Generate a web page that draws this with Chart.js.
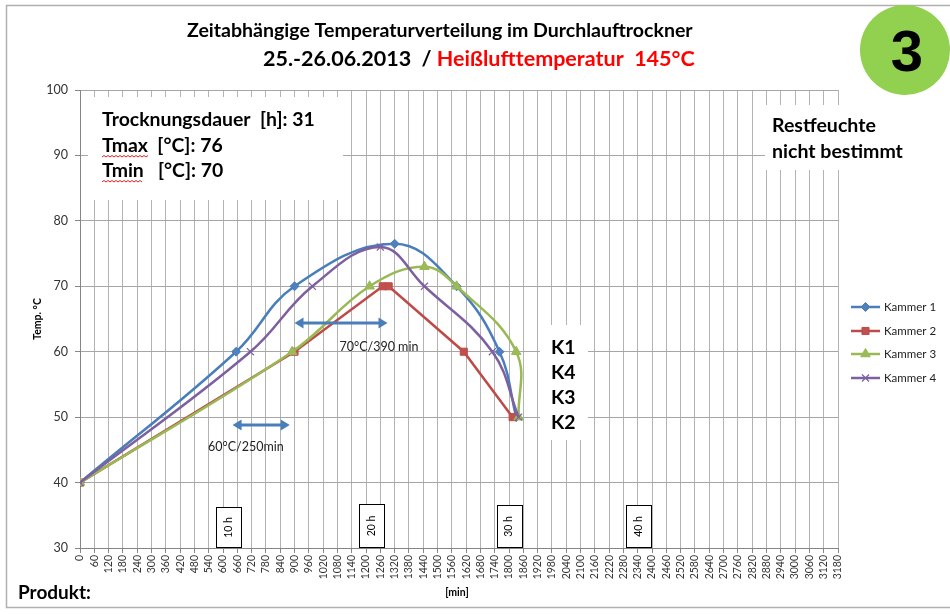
<!DOCTYPE html>
<html>
<head>
<meta charset="utf-8">
<script src="https://cdn.jsdelivr.net/npm/chart.js@4.4.1/dist/chart.umd.min.js"></script>
<style>
  html, body { margin: 0; padding: 0; background: #fff; }
  canvas { display: block; }
</style>
</head>
<body>
<canvas id="chart" width="950" height="614"></canvas>
<script>
// Messwerte: Zeit [min] und Temperatur [°C] je Kammer
const k1Min  = [0, 655, 900, 1320, 1580, 1760, 1830];
const k1Temp = [40, 60, 70, 76.5, 70, 60, 50];
const k2Min  = [0, 900, 1270, 1295, 1610, 1815];
const k2Temp = [40, 60, 70, 70, 60, 50];
const k3Min  = [0, 890, 1215, 1445, 1580, 1830, 1840];
const k3Temp = [40, 60, 70, 73, 70, 60, 50];
const k4Min  = [0, 715, 975, 1260, 1445, 1730, 1840];
const k4Temp = [40, 60, 70, 76, 70, 60, 50];

const seriesNames = ['Kammer 1', 'Kammer 2', 'Kammer 3', 'Kammer 4'];

// Achsen
const xMin = 0, xMax = 3180, xStep = 60;
const yMin = 30, yMax = 100, yStep = 10;

// Stundenmarken (Position in min)
const hourLabels = ['10 h', '20 h', '30 h', '40 h'];
const hourPos = [625, 1222, 1800, 2345];

// Pfeile: von/bis [min], Höhe [°C], Beschriftung
const arrowFrom = [900, 640];
const arrowTo = [1290, 880];
const arrowTemp = [64.4, 48.8];
const arrowText = ['70°C/390 min', '60°C/250min'];
const arrowTextX = [1254, 696];
const arrowTextY = [60.7, 45.4];

const infoLines = ['Trocknungsdauer  [h]: 31', 'Tmax  [°C]: 76', 'Tmin   [°C]: 70'];
const kOrder = ['K1', 'K4', 'K3', 'K2'];

const FONT = 'Lato, "Open Sans", sans-serif';

function pts(xs, ys) {
    return xs.map((x, i) => ({ x: x, y: ys[i] }));
}

// Schriftgröße so wählen, dass der Text eine bestimmte Breite hat
function fitSize(ctx, text, width, weight) {
    ctx.font = `${weight} 100px ${FONT}`;
    return 100 * width / ctx.measureText(text).width;
}

function drawArrow(ctx, x1, x2, y) {
    const head = 9, hw = 5.5;
    ctx.save();
    ctx.strokeStyle = '#4A7EBB';
    ctx.fillStyle = '#4A7EBB';
    ctx.lineWidth = 3;
    ctx.beginPath();
    ctx.moveTo(x1 + head - 1, y);
    ctx.lineTo(x2 - head + 1, y);
    ctx.stroke();
    ctx.beginPath();
    ctx.moveTo(x1, y);
    ctx.lineTo(x1 + head, y - hw);
    ctx.lineTo(x1 + head, y + hw);
    ctx.closePath();
    ctx.fill();
    ctx.beginPath();
    ctx.moveTo(x2, y);
    ctx.lineTo(x2 - head, y - hw);
    ctx.lineTo(x2 - head, y + hw);
    ctx.closePath();
    ctx.fill();
    ctx.restore();
}

function squiggle(ctx, x1, x2, y) {
    ctx.save();
    ctx.strokeStyle = '#e02020';
    ctx.lineWidth = 1;
    ctx.beginPath();
    let up = true;
    ctx.moveTo(x1, y);
    for (let x = x1 + 2; x <= x2; x += 2) {
        ctx.lineTo(x, up ? y - 1.5 : y);
        up = !up;
    }
    ctx.stroke();
    ctx.restore();
}

const decor = {
    id: 'decor',
    beforeDatasetsDraw(chart) {
        const ctx = chart.ctx;
        const xs = chart.scales.x, ys = chart.scales.y;
        ctx.save();
        ctx.fillStyle = '#fff';
        // Textfelder decken das Gitter ab
        ctx.fillRect(88, 97, 255, 103);
        ctx.fillRect(765, 105, 80, 65);
        ctx.fillRect(540, 325, 48, 115);

        // Stundenmarken
        const hs = [41, 44, 43, 43];
        hourPos.forEach((m, i) => {
            const cx = xs.getPixelForValue(m);
            const bottom = ys.bottom;
            const w = 25, h = hs[i];
            ctx.fillStyle = '#fff';
            ctx.fillRect(cx - w / 2, bottom - h, w, h);
            ctx.strokeStyle = '#000';
            ctx.lineWidth = 1;
            ctx.strokeRect(Math.round(cx - w / 2) + 0.5, bottom - h + 0.5, w, h - 1);
            ctx.save();
            ctx.translate(cx, bottom - h / 2);
            ctx.rotate(-Math.PI / 2);
            ctx.fillStyle = '#000';
            ctx.font = `10.5px ${FONT}`;
            ctx.textAlign = 'center';
            ctx.textBaseline = 'middle';
            ctx.fillText(hourLabels[i], 0, 0);
            ctx.restore();
        });
        ctx.restore();
    },
    afterDatasetsDraw(chart) {
        const ctx = chart.ctx;
        const xs = chart.scales.x, ys = chart.scales.y;
        arrowFrom.forEach((f, i) => {
            drawArrow(ctx, xs.getPixelForValue(f), xs.getPixelForValue(arrowTo[i]), ys.getPixelForValue(arrowTemp[i]));
            ctx.save();
            ctx.fillStyle = '#222';
            ctx.font = `12.5px ${FONT}`;
            ctx.textAlign = 'center';
            ctx.textBaseline = 'middle';
            ctx.fillText(arrowText[i], xs.getPixelForValue(arrowTextX[i]), ys.getPixelForValue(arrowTextY[i]));
            ctx.restore();
        });
    },
    afterDraw(chart) {
        const ctx = chart.ctx;
        ctx.save();

        // Rahmen
        ctx.strokeStyle = '#b0b0b0';
        ctx.lineWidth = 1.5;
        ctx.strokeRect(6.5, 5.5, 980, 602);

        // Titel
        ctx.textBaseline = 'middle';
        ctx.textAlign = 'left';
        const t1 = 'Zeitabhängige Temperaturverteilung im Durchlauftrockner';
        const s1 = fitSize(ctx, t1, 506, 'bold');
        ctx.font = `bold ${s1}px ${FONT}`;
        ctx.fillStyle = '#000';
        ctx.fillText(t1, 187, 31);

        const t2a = '25.-26.06.2013  / ';
        const t2b = 'Heißlufttemperatur  145°C';
        const s2 = fitSize(ctx, t2a + t2b, 432, 'bold');
        ctx.font = `bold ${s2}px ${FONT}`;
        ctx.fillStyle = '#000';
        ctx.fillText(t2a, 263, 59);
        const wA = ctx.measureText(t2a).width;
        ctx.fillStyle = '#ff0000';
        ctx.fillText(t2b, 263 + wA, 59);

        // Kreis mit Nummer
        ctx.fillStyle = '#92D050';
        ctx.beginPath();
        ctx.arc(905, 50, 45, 0, Math.PI * 2);
        ctx.fill();
        ctx.fillStyle = '#000';
        ctx.font = 'bold 58px "Liberation Sans", Arial, sans-serif';
        ctx.textAlign = 'center';
        ctx.textBaseline = 'alphabetic';
        ctx.fillText('3', 907, 71);

        // Infotext
        ctx.textAlign = 'left';
        ctx.textBaseline = 'middle';
        const si = fitSize(ctx, infoLines[0], 213, 'bold');
        ctx.font = `bold ${si}px ${FONT}`;
        ctx.fillStyle = '#000';
        ctx.fillText(infoLines[0], 102, 120);
        ctx.fillText(infoLines[1], 102, 146);
        ctx.fillText(infoLines[2], 102, 171);
        squiggle(ctx, 102, 148, 157);
        squiggle(ctx, 102, 142, 182);

        const sr = fitSize(ctx, 'nicht bestimmt', 131, 'bold');
        ctx.font = `bold ${sr}px ${FONT}`;
        ctx.fillText('Restfeuchte', 772, 126);
        ctx.fillText('nicht bestimmt', 772, 152);

        ctx.font = `bold ${si}px ${FONT}`;
        kOrder.forEach((k, i) => ctx.fillText(k, 551, 348 + i * 25));

        // Achsentitel
        ctx.font = `bold 10.5px ${FONT}`;
        ctx.textAlign = 'center';
        ctx.fillText('[min]', 457, 593);
        ctx.save();
        ctx.translate(38, 319);
        ctx.rotate(-Math.PI / 2);
        ctx.fillText('Temp. °C', 0, 0);
        ctx.restore();

        ctx.textAlign = 'left';
        ctx.font = `bold 19px ${FONT}`;
        ctx.fillText('Produkt:', 18, 593);

        // Legende
        const rows = [307, 331, 354, 378];
        chart.data.datasets.forEach((ds, i) => {
            const y = rows[i];
            ctx.strokeStyle = ds.borderColor;
            ctx.lineWidth = 2.5;
            ctx.beginPath();
            ctx.moveTo(851, y);
            ctx.lineTo(880, y);
            ctx.stroke();
            ctx.fillStyle = ds.pointBackgroundColor;
            ctx.strokeStyle = ds.borderColor;
            ctx.lineWidth = ds.pointBorderWidth;
            Chart.helpers.drawPoint(ctx, {
                pointStyle: ds.pointStyle,
                radius: ds.pointRadius,
                rotation: 0,
                borderWidth: ds.pointBorderWidth
            }, 865.5, y);
            ctx.fillStyle = '#222';
            ctx.font = `11.5px ${FONT}`;
            ctx.textAlign = 'left';
            ctx.textBaseline = 'middle';
            ctx.fillText(seriesNames[i], 884, y);
        });

        ctx.restore();
    }
};

function series(idx, xs, ys, color, fill, style, radius, tension, pbw) {
    return {
        label: seriesNames[idx],
        data: pts(xs, ys),
        order: 3 - idx,
        borderColor: color,
        backgroundColor: fill,
        pointBackgroundColor: fill,
        pointBorderColor: color,
        pointStyle: style,
        pointRadius: radius,
        pointBorderWidth: pbw,
        borderWidth: 2.5,
        tension: tension,
        fill: false
    };
}

new Chart(document.getElementById('chart').getContext('2d'), {
    type: 'line',
    data: {
        datasets: [
            series(0, k1Min, k1Temp, '#4A7EBB', '#4F81BD', 'rectRot', 4.5, 0.4, 1),
            series(1, k2Min, k2Temp, '#BE4B48', '#C0504D', 'rect', 5, 0, 1),
            series(2, k3Min, k3Temp, '#98B954', '#9BBB59', 'triangle', 5.5, 0.4, 1),
            series(3, k4Min, k4Temp, '#7D60A0', '#8064A2', 'crossRot', 5, 0.4, 1.2)
        ]
    },
    options: {
        responsive: false,
        animation: false,
        devicePixelRatio: 1,
        layout: { padding: { left: 0, right: 112, top: 90, bottom: 0 } },
        plugins: {
            legend: { display: false },
            tooltip: { enabled: false }
        },
        scales: {
            x: {
                type: 'linear',
                min: xMin,
                max: xMax,
                afterFit: (s) => { s.height = 66; },
                ticks: {
                    stepSize: xStep,
                    autoSkip: false,
                    minRotation: 90,
                    maxRotation: 90,
                    padding: 2,
                    color: '#333',
                    font: { family: FONT, size: 10.5 },
                    callback: (v) => String(v)
                },
                grid: { color: '#b3b3b3', tickLength: 5, tickColor: '#868686' },
                border: { color: '#868686' }
            },
            y: {
                min: yMin,
                max: yMax,
                afterFit: (s) => { s.width = 80; },
                ticks: {
                    stepSize: yStep,
                    padding: 7,
                    color: '#333',
                    font: { family: FONT, size: 12.5 },
                    callback: (v) => String(v)
                },
                grid: { color: '#a6a6a6', tickLength: 5, tickColor: '#868686' },
                border: { color: '#868686' }
            }
        }
    },
    plugins: [decor]
});
</script>
</body>
</html>
